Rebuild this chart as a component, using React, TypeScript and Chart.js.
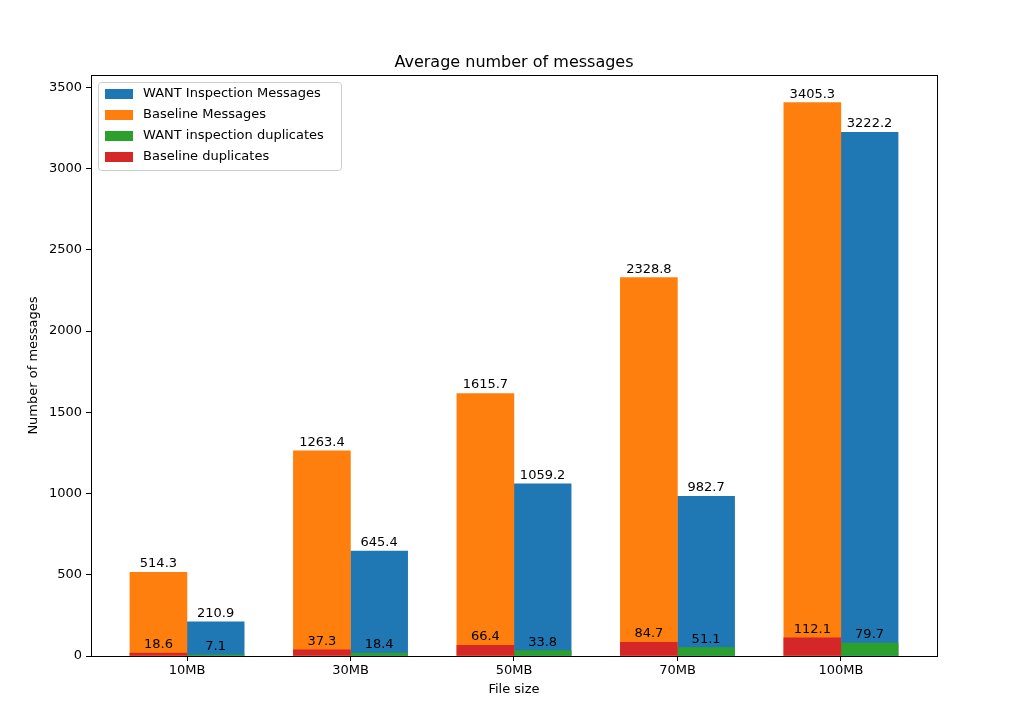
import React, { useEffect, useRef } from 'react'
import { Chart, registerables } from 'chart.js'

Chart.register(...registerables)

const categories = ['10MB', '30MB', '50MB', '70MB', '100MB']
const wantMessages = [210.9, 645.4, 1059.2, 982.7, 3222.2]
const baselineMessages = [514.3, 1263.4, 1615.7, 2328.8, 3405.3]
const wantDuplicates = [7.1, 18.4, 33.8, 51.1, 79.7]
const baselineDuplicates = [18.6, 37.3, 66.4, 84.7, 112.1]

const FONT = '"DejaVu Sans", sans-serif'
const legendItems = [
  { label: 'WANT Inspection Messages', color: '#1f77b4' },
  { label: 'Baseline Messages', color: '#ff7f0e' },
  { label: 'WANT inspection duplicates', color: '#2ca02c' },
  { label: 'Baseline duplicates', color: '#d62728' }
]

const pts = (vals: number[], off: number) => vals.map((y, i) => ({ x: i + off, y }))

const App: React.FC = () => {
  const chartRef = useRef<HTMLCanvasElement | null>(null)

  useEffect(() => {
    document.body.style.margin = '0'
    if (!chartRef.current) return
    const extras = {
      id: 'extras',
      afterDraw(chart: any) {
        const { ctx, chartArea: a } = chart
        ctx.save()
        ctx.strokeStyle = '#000'
        ctx.lineWidth = 1
        ctx.strokeRect(a.left + 0.5, a.top + 0.5, a.right - a.left, a.bottom - a.top)
        ctx.fillStyle = '#000'
        ctx.font = `16px ${FONT}`
        ctx.textAlign = 'center'
        ctx.textBaseline = 'alphabetic'
        ctx.fillText('Average number of messages', (a.left + a.right) / 2, 67)
        ctx.font = `13px ${FONT}`
        chart.data.datasets.forEach((ds: any, di: number) => {
          const meta = chart.getDatasetMeta(di)
          meta.data.forEach((bar: any, i: number) => {
            ctx.fillText(ds.data[i].y.toFixed(1), bar.x, bar.y - 5)
          })
        })
        // legend
        const lx = a.left + 7, ly = a.top + 7
        ctx.fillStyle = 'rgba(255,255,255,0.8)'
        ctx.strokeStyle = '#ccc'
        ctx.beginPath()
        ctx.roundRect(lx + 0.5, ly + 0.5, 243, 88, 3)
        ctx.fill()
        ctx.stroke()
        ctx.textAlign = 'left'
        ctx.textBaseline = 'middle'
        legendItems.forEach((it, k) => {
          const y = ly + 12 + k * 21
          ctx.fillStyle = it.color
          ctx.fillRect(lx + 7, y - 5, 28, 10)
          ctx.fillStyle = '#000'
          ctx.fillText(it.label, lx + 45, y)
        })
        ctx.restore()
      }
    }
    const chart = new Chart(chartRef.current, {
      type: 'bar',
      data: {
        datasets: [
          { label: 'Baseline duplicates', data: pts(baselineDuplicates, -0.175), backgroundColor: '#d62728', order: 0 },
          { label: 'WANT inspection duplicates', data: pts(wantDuplicates, 0.175), backgroundColor: '#2ca02c', order: 0 },
          { label: 'Baseline Messages', data: pts(baselineMessages, -0.175), backgroundColor: '#ff7f0e', order: 1 },
          { label: 'WANT Inspection Messages', data: pts(wantMessages, 0.175), backgroundColor: '#1f77b4', order: 1 }
        ] as any
      },
      options: {
        responsive: false,
        animation: false,
        layout: { padding: { left: 26, right: 78, top: 75, bottom: 10 } },
        datasets: { bar: { grouped: false, barThickness: 57 } } as any,
        plugins: { legend: { display: false }, tooltip: { enabled: false } },
        scales: {
          x: {
            type: 'linear',
            offset: false,
            min: -0.5875,
            max: 4.5875,
            afterBuildTicks: (s: any) => { s.ticks = categories.map((_, i) => ({ value: i })) },
            afterFit: (s: any) => { s.height = 41 },
            ticks: { color: '#000', font: { family: FONT, size: 13 }, padding: 2, callback: (v: any) => categories[v] ?? '' },
            grid: { drawOnChartArea: false, tickLength: 5, color: '#000', offset: false },
            border: { color: '#000' },
            title: { display: true, text: 'File size', color: '#000', font: { family: FONT, size: 13 }, padding: 0 }
          },
          y: {
            min: 0,
            max: 3575.6,
            afterBuildTicks: (s: any) => { s.ticks = [0, 500, 1000, 1500, 2000, 2500, 3000, 3500].map(v => ({ value: v })) },
            afterFit: (s: any) => { s.width = 65 },
            ticks: { color: '#000', font: { family: FONT, size: 13 }, padding: 4, callback: (v: any) => String(v) },
            grid: { drawOnChartArea: false, tickLength: 5, color: '#000' },
            border: { color: '#000' },
            title: { display: true, text: 'Number of messages', color: '#000', font: { family: FONT, size: 13 }, padding: 0 }
          }
        }
      },
      plugins: [extras]
    })
    return () => chart.destroy()
  }, [])

  return <canvas ref={chartRef} width={1015} height={707} style={{ width: 1015, height: 707 }} />
}

export default App
